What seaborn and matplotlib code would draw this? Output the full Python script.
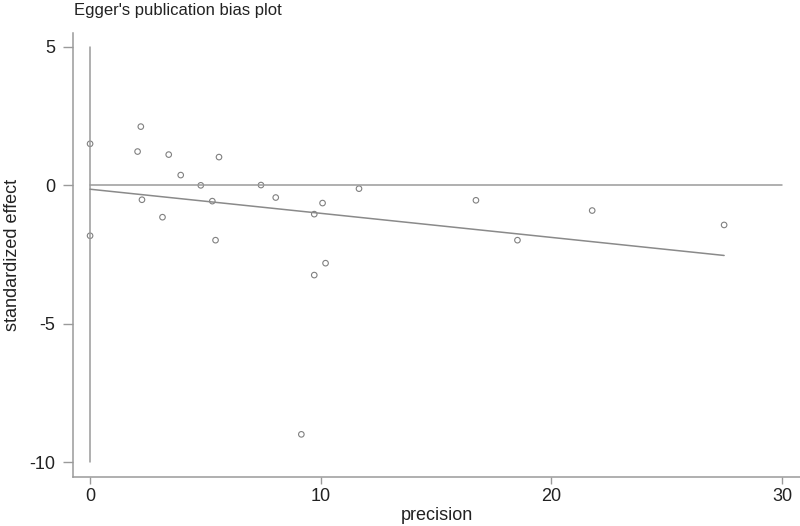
import matplotlib
matplotlib.use("Agg")
import matplotlib.pyplot as plt
import numpy as np
import pandas as pd
import seaborn as sns

# precision (1/se) and standardized effect (effect/se) per study
precision = [0.0, 2.2, 2.06, 3.41, 5.59, 3.93, 4.8, 7.41, 2.25, 5.3,
             8.05, 3.14, 0.0, 5.44, 11.66, 10.08, 9.72, 10.21, 9.72,
             16.73, 18.53, 21.77, 27.49, 9.16]
std_effect = [1.49, 2.11, 1.21, 1.10, 1.01, 0.36, -0.01, 0.0, -0.53, -0.58,
              -0.45, -1.16, -1.83, -1.99, -0.13, -0.65, -1.05, -2.82, -3.25,
              -0.55, -1.99, -0.92, -1.44, -9.0]

# fitted Egger line and the bar drawn at precision = 0
fit_intercept = -0.15
fit_slope = -0.087
bar_low, bar_high = -10, 5
zero_line_end = 30

df = pd.DataFrame({"precision": precision, "std_effect": std_effect})

sns.set_style("white")
plt.rcParams["font.family"] = ["Liberation Sans", "DejaVu Sans"]
plt.rcParams["axes.unicode_minus"] = False

grey = "#9a9a9a"
fig = plt.figure(figsize=(8, 5.26), dpi=100)
ax = fig.add_axes([73 / 800, 49 / 526, 727 / 800, 444 / 526])

# reference lines
ax.plot([0, 0], [bar_low, bar_high], color=grey, lw=1.1)
ax.plot([0, zero_line_end], [0, 0], color=grey, lw=1.1)

# fitted line from 0 to the largest precision
fit_x = np.array([0, max(precision)])
sns.lineplot(x=fit_x, y=fit_intercept + fit_slope * fit_x, ax=ax,
             color="#8a8a8a", lw=1.1)

sns.scatterplot(data=df, x="precision", y="std_effect", ax=ax,
                marker="o", s=16, facecolor="none", edgecolor="#808080",
                linewidth=0.8)

ax.set_xlim(-0.74, 30.78)
ax.set_ylim(-10.54, 5.49)
ax.set_xticks([0, 10, 20, 30])
ax.set_yticks([-10, -5, 0, 5])

for side in ["top", "right"]:
    ax.spines[side].set_visible(False)
for side in ["left", "bottom"]:
    ax.spines[side].set_color(grey)
    ax.spines[side].set_linewidth(1.1)

ax.tick_params(axis="y", left=True, length=7, width=1, color=grey,
               pad=6, labelsize=13, labelcolor="#222222")
ax.tick_params(axis="x", bottom=True, length=5, width=1, color=grey,
               pad=3, labelsize=13, labelcolor="#222222")

ax.set_xlabel("precision", fontsize=13, color="#222222", labelpad=1)
ax.set_ylabel("standardized effect", fontsize=13, color="#222222")
ax.yaxis.set_label_coords(-0.071, 0.5)
fig.text(74 / 800, 1 - 10 / 526, "Egger's publication bias plot",
         fontsize=12, color="#222222", va="center", ha="left")

fig.savefig("out.png", dpi=100)
